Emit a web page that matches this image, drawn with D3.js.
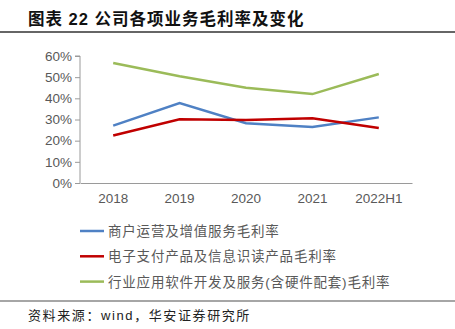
<!DOCTYPE html>
<html>
<head>
<meta charset="utf-8">
<script src="https://cdn.jsdelivr.net/npm/d3@7"></script>
<style>
  body { margin: 0; background: #fff; }
  text { font-family: "Liberation Sans", Arial, "Noto Sans CJK SC", sans-serif; }
</style>
</head>
<body>
<div id="plot"></div>
<script>
// gross margin by business line, %
const years = ["2018", "2019", "2020", "2021", "2022H1"];
const merchantOps = [27.1, 37.8, 28.2, 26.5, 31.0];
const ePayment = [22.4, 30.1, 29.8, 30.6, 26.0];
const industrySoftware = [56.7, 50.4, 45.0, 42.0, 51.5];
const seriesNames = [
  "商户运营及增值服务毛利率",
  "电子支付产品及信息识读产品毛利率",
  "行业应用软件开发及服务(含硬件配套)毛利率"
];
const yTicks = [0, 10, 20, 30, 40, 50, 60];

const w = 455;
const h = 329;
const margin = {top: 56, right: 43, bottom: 146, left: 80};
const innerWidth = w - margin.left - margin.right;
const innerHeight = h - margin.top - margin.bottom;

const svg = d3.select("div#plot")
    .append("svg")
    .attr("width", w)
    .attr("height", h);

// header and footer
svg.append("text")
    .attr("x", 28)
    .attr("y", 25)
    .attr("font-size", 16.5)
    .attr("font-weight", "bold")
    .attr("letter-spacing", 1)
    .attr("fill", "#111")
    .text("图表 22  公司各项业务毛利率及变化");

svg.append("line")
    .attr("x1", 0).attr("x2", w)
    .attr("y1", 32).attr("y2", 32)
    .attr("stroke", "#333")
    .attr("stroke-width", 1.5);

svg.append("line")
    .attr("x1", 0).attr("x2", w)
    .attr("y1", 301).attr("y2", 301)
    .attr("stroke", "#888")
    .attr("stroke-width", 1.5);

svg.append("text")
    .attr("x", 28)
    .attr("y", 320)
    .attr("font-size", 13)
    .attr("letter-spacing", 1.6)
    .attr("fill", "#222")
    .text("资料来源：wind，华安证券研究所");

const xScale = d3.scaleBand()
    .domain(years)
    .range([0, innerWidth]);

const yScale = d3.scaleLinear()
    .domain([0, 60])
    .range([innerHeight, 0]);

const g = svg.append("g")
    .attr("transform", `translate(${margin.left}, ${margin.top})`);

const xAxis = d3.axisBottom(xScale)
    .tickSize(0)
    .tickPadding(10);

const yAxis = d3.axisLeft(yScale)
    .tickValues(yTicks)
    .tickFormat(d => d + "%")
    .tickSize(5)
    .tickPadding(3);

g.append("g")
    .attr("class", "yAxis")
    .call(yAxis)
    .call(a => a.select(".domain").attr("stroke", "#9a9a9a").attr("d", `M-5,0H0V${innerHeight}`))
    .call(a => a.selectAll(".tick line").attr("stroke", "#9a9a9a"))
    .call(a => a.selectAll(".tick text")
        .attr("font-size", 13.5)
        .attr("fill", "#595959"));

g.append("g")
    .attr("class", "xAxis")
    .attr("transform", `translate(0, ${innerHeight})`)
    .call(xAxis)
    .call(a => a.select(".domain").attr("stroke", "#9a9a9a"))
    .call(a => a.selectAll(".tick text")
        .attr("font-size", 13.5)
        .attr("fill", "#595959"));

const colors = ["#4f81c4", "#c00000", "#9bbb59"];
const allSeries = [merchantOps, ePayment, industrySoftware];

const line = d3.line()
    .x((d, i) => xScale(years[i]) + xScale.bandwidth() / 2)
    .y(d => yScale(d));

// green drawn first so the crossing red/blue sit on top
[2, 0, 1].forEach(k => {
  g.append("path")
      .datum(allSeries[k])
      .attr("fill", "none")
      .attr("stroke", colors[k])
      .attr("stroke-width", 2.5)
      .attr("d", line);
});

// legend
const legend = svg.append("g")
    .attr("transform", "translate(80, 231)");

seriesNames.forEach((name, i) => {
  const row = legend.append("g")
      .attr("transform", `translate(0, ${i * 25.3})`);
  row.append("line")
      .attr("x1", 0).attr("x2", 24)
      .attr("stroke", colors[i])
      .attr("stroke-width", 2.5);
  row.append("text")
      .attr("x", 28)
      .attr("y", 5)
      .attr("font-size", 13.5)
      .attr("letter-spacing", 0.8)
      .attr("fill", "#595959")
      .text(name);
});
</script>
</body>
</html>
